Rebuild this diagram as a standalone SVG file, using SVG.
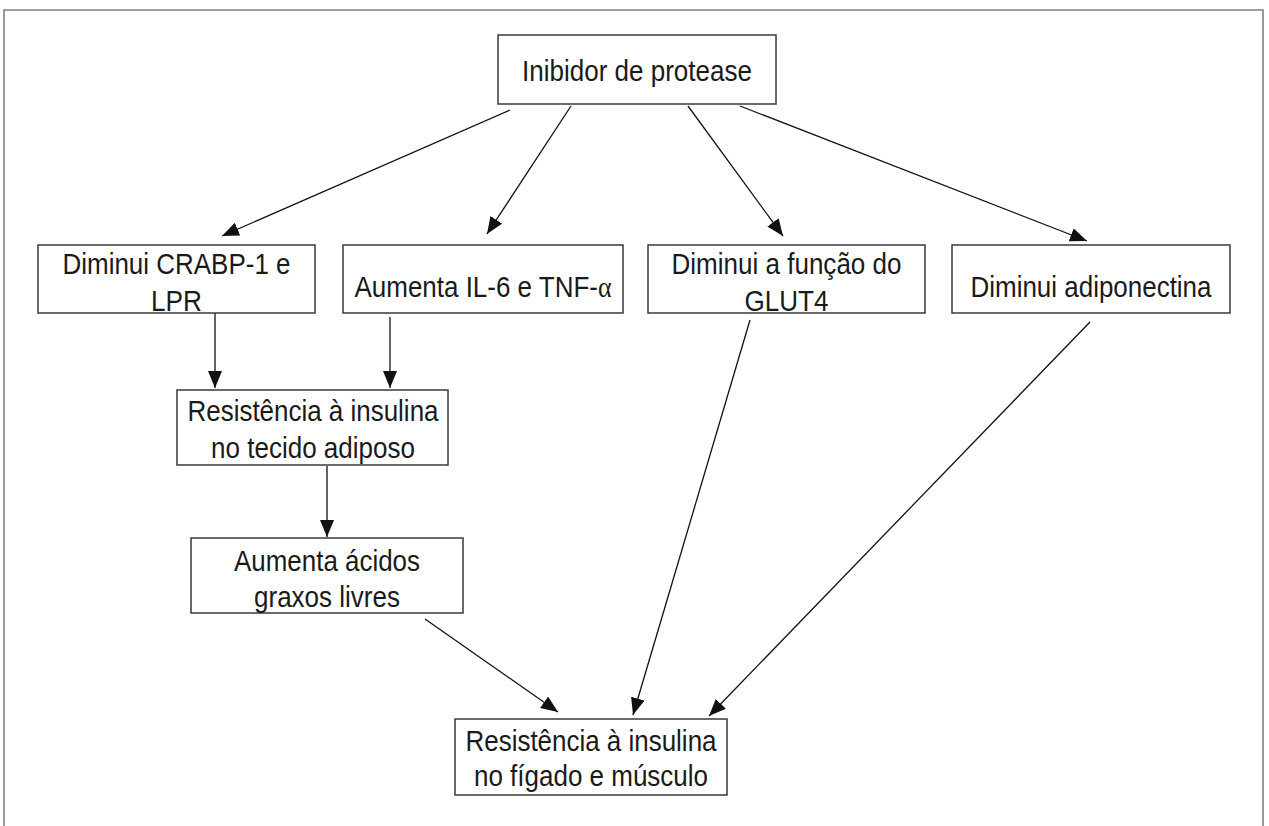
<svg xmlns="http://www.w3.org/2000/svg" width="1269" height="826" viewBox="0 0 1269 826">
<style>
.box{fill:#fff;stroke:#3a3a3a;stroke-width:1.5}
.t{font-family:"Liberation Sans",Arial,sans-serif;font-size:30px;fill:#1a1a1a;text-anchor:middle}
.c{stroke:#111;stroke-width:1.3;fill:none;marker-end:url(#ah)}
</style>
<defs>
<marker id="ah" markerUnits="userSpaceOnUse" markerWidth="18" markerHeight="14" viewBox="0 0 18 14" refX="17" refY="7" orient="auto">
<path d="M0,0 L17,7 L0,14 Z" fill="#111"/>
</marker>
</defs>
<rect width="1269" height="826" fill="#fff"/>
<path d="M4,826 V10 H1263 V826" fill="none" stroke="#808080" stroke-width="1.6"/>
<g id="connectors">
<line class="c" x1="510" y1="110" x2="222" y2="236"/>
<line class="c" x1="571" y1="106" x2="487" y2="234"/>
<line class="c" x1="688" y1="106" x2="783" y2="236"/>
<line class="c" x1="740" y1="106" x2="1087" y2="241"/>
<line class="c" x1="215" y1="313" x2="215" y2="388"/>
<line class="c" x1="390" y1="317" x2="390" y2="388"/>
<line class="c" x1="327" y1="466" x2="327" y2="537"/>
<line class="c" x1="425" y1="619" x2="558" y2="712"/>
<line class="c" x1="750" y1="320" x2="633" y2="715"/>
<line class="c" x1="1090" y1="322" x2="709" y2="716"/>
</g>
<g id="n-inibidor">
<rect class="box" x="498" y="35" width="278" height="69"/>
<text class="t" x="637" y="81" textLength="230" lengthAdjust="spacingAndGlyphs">Inibidor de protease</text>
</g>
<g id="n-crabp">
<rect class="box" x="38" y="245" width="277" height="68"/>
<text class="t" x="176.5" y="274" textLength="228" lengthAdjust="spacingAndGlyphs">Diminui CRABP-1 e</text>
<text class="t" x="176.5" y="311" textLength="51" lengthAdjust="spacingAndGlyphs">LPR</text>
</g>
<g id="n-il6">
<rect class="box" x="343" y="245" width="280" height="68"/>
<text class="t" transform="translate(483,297) scale(0.866,1)" x="0" y="0">Aumenta IL-6 e TNF-<tspan font-family="'Liberation Serif','Times New Roman',serif">α</tspan></text>
</g>
<g id="n-glut4">
<rect class="box" x="648" y="245" width="277" height="68"/>
<text class="t" x="786.5" y="274" textLength="230" lengthAdjust="spacingAndGlyphs">Diminui a função do</text>
<text class="t" x="786.5" y="311" textLength="84" lengthAdjust="spacingAndGlyphs">GLUT4</text>
</g>
<g id="n-adipo">
<rect class="box" x="952" y="245" width="278" height="68"/>
<text class="t" x="1091" y="297" textLength="241" lengthAdjust="spacingAndGlyphs">Diminui adiponectina</text>
</g>
<g id="n-resist-adiposo">
<rect class="box" x="177" y="390" width="271" height="75"/>
<text class="t" x="313" y="421" textLength="251" lengthAdjust="spacingAndGlyphs">Resistência à insulina</text>
<text class="t" x="313" y="458" textLength="204" lengthAdjust="spacingAndGlyphs">no tecido adiposo</text>
</g>
<g id="n-acidos">
<rect class="box" x="191" y="538" width="272" height="75"/>
<text class="t" x="327" y="571" textLength="186" lengthAdjust="spacingAndGlyphs">Aumenta ácidos</text>
<text class="t" x="327" y="607" textLength="146" lengthAdjust="spacingAndGlyphs">graxos livres</text>
</g>
<g id="n-resist-figado">
<rect class="box" x="455" y="719" width="272" height="76"/>
<text class="t" x="591" y="751" textLength="251" lengthAdjust="spacingAndGlyphs">Resistência à insulina</text>
<text class="t" x="591" y="786" textLength="234" lengthAdjust="spacingAndGlyphs">no fígado e músculo</text>
</g>
</svg>
